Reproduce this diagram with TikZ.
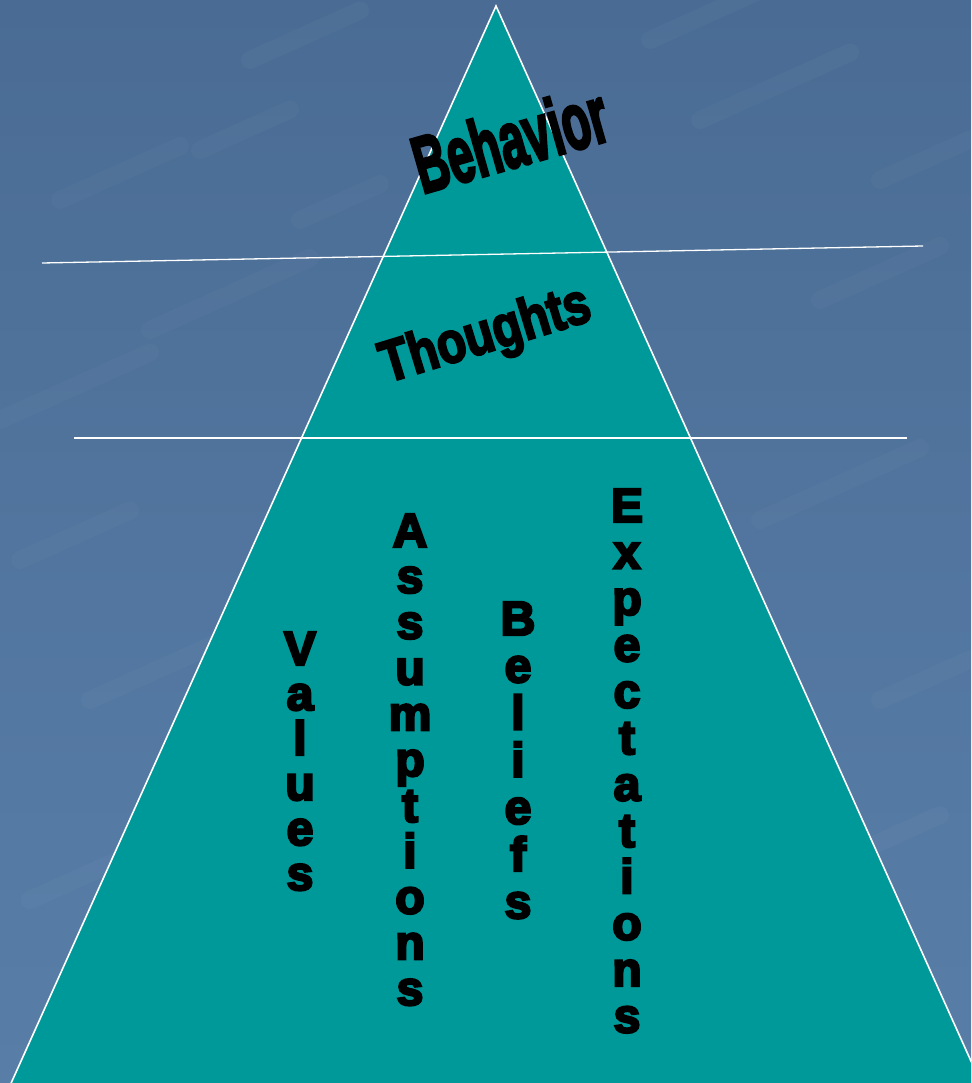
\documentclass[tikz,border=0pt]{standalone}
\usepackage{fontspec}
\newfontfamily\blk[FakeBold=5]{Liberation Sans Bold}
\newfontfamily\blkt[FakeBold=4]{Liberation Sans Bold}
\definecolor{bgtop}{RGB}{74,108,148}
\definecolor{bgbot}{RGB}{88,126,168}
\definecolor{tealfill}{RGB}{0,153,153}
\tikzset{
  ltr/.style={anchor=base, inner sep=0pt, text=black, font=\fontsize{48}{48}\selectfont\blk},
  wordart/.style={inner sep=0pt, text=black},
  rule/.style={draw=white, line width=1.6pt}
}
\begin{document}
\begin{tikzpicture}[x=1pt,y=-1pt]
\useasboundingbox (0,0) rectangle (971,1083);
\clip (0,0) rectangle (971,1083);
\shade[top color=bgtop, bottom color=bgbot] (0,0) rectangle (971,1083);
% faint texture
\foreach \sx/\sy/\len in {60/200/120, 150/330/160, 20/560/110, 90/700/140, 200/150/90, 700/120/150, 820/300/120, 760/520/160, 880/700/90, 30/900/130, 250/60/110, 840/860/100, 0/420/150, 300/220/80, 650/40/120, 880/180/90}{
  \draw[white, opacity=0.022, line width=18pt, line cap=round] (\sx,\sy) -- ++(\len,-0.45*\len);
}
\coordinate (apex) at (496,6);
\coordinate (bl) at (8,1090);
\coordinate (br) at (984,1090);
\fill[tealfill] (apex) -- (bl) -- (br) -- cycle;
\draw[rule] (bl) -- (apex) -- (br);
\coordinate (l1a) at (42,263);
\coordinate (l1b) at (923,246);
\coordinate (l2a) at (74,438);
\coordinate (l2b) at (907,438);
\draw[rule, line width=1.3pt] (l1a) -- (l1b);
\draw[rule, line width=1.3pt] (l2a) -- (l2b);
% WordArt titles
\node[wordart, rotate=16, xscale=0.58, font=\fontsize{80}{80}\selectfont\blkt] (beh) at (510,139) {Behavior};
\node[wordart, rotate=17, xscale=0.82, font=\fontsize{58}{58}\selectfont\blkt] (tho) at (486,337) {Thoughts};
% vertical words
\foreach \c [count=\i] in {V,a,l,u,e,s}
  \node[ltr] (val\i) at (300,{665+45*(\i-1)}) {\c};
\foreach \c [count=\i] in {A,s,s,u,m,p,t,i,o,n,s}
  \node[ltr] (ass\i) at (410,{547+45.8*(\i-1)}) {\c};
\foreach \c [count=\i] in {B,e,l,i,e,f,s}
  \node[ltr] (bel\i) at (518,{635+47.2*(\i-1)}) {\c};
\foreach \c [count=\i] in {E,x,p,e,c,t,a,t,i,o,n,s}
  \node[ltr] (exp\i) at (627,{522+46.4*(\i-1)}) {\c};
\end{tikzpicture}
\end{document}
